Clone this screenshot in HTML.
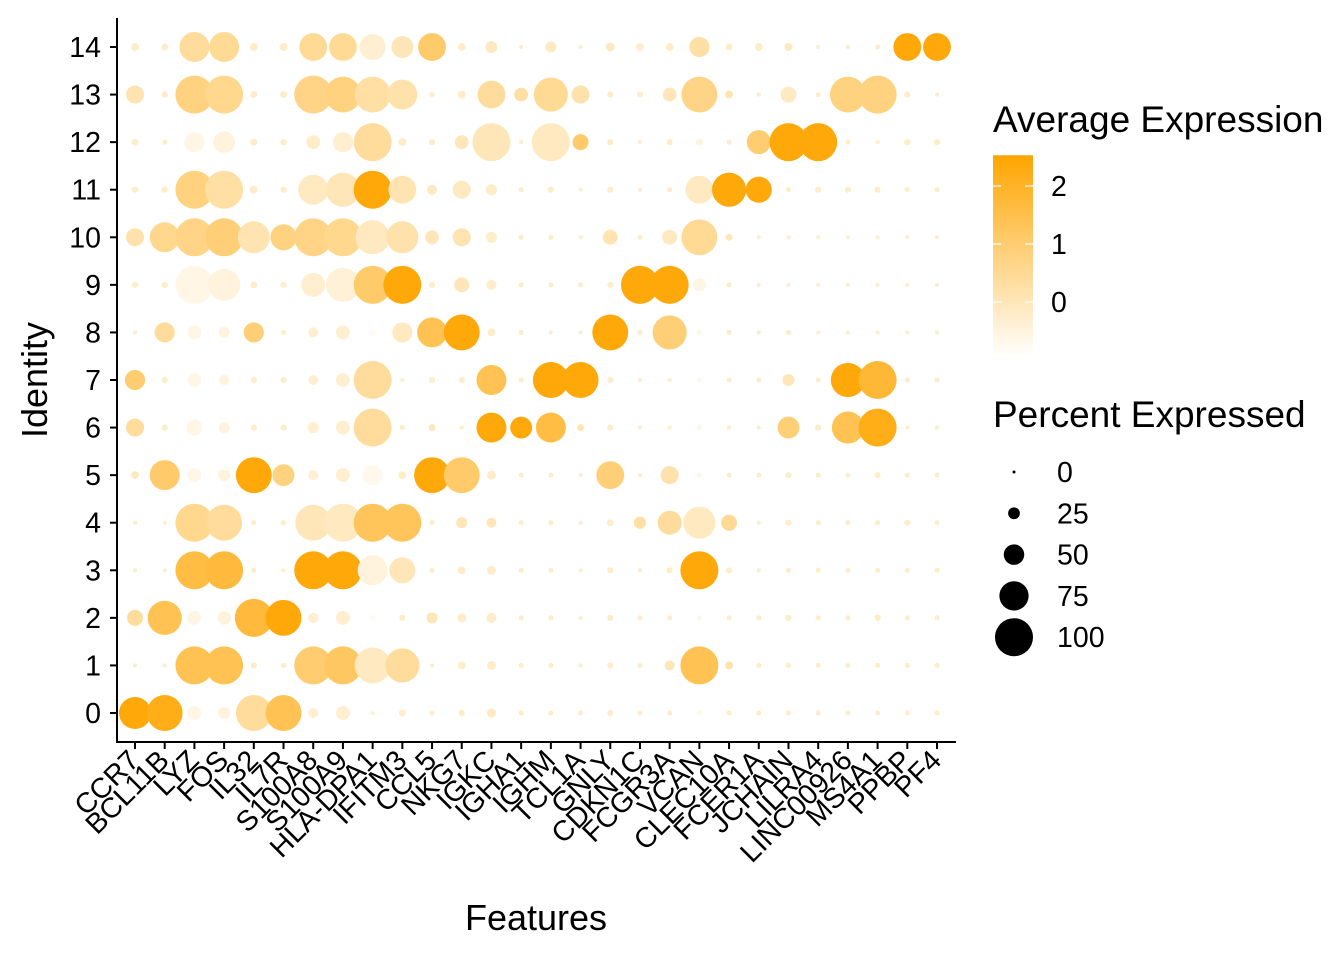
<!DOCTYPE html>
<html><head><meta charset="utf-8"><style>
html,body{margin:0;padding:0;background:#fff;}
svg text{font-family:"Liberation Sans",Arial,sans-serif;fill:#000;}
</style></head><body>
<svg id="chart" width="1344" height="960" xmlns="http://www.w3.org/2000/svg">
<defs><linearGradient id="grad" x1="0" y1="1" x2="0" y2="0">
<stop offset="0" stop-color="#ffffff"/><stop offset="1" stop-color="#ffa500"/></linearGradient></defs>
<g id="dots"></g>
<g id="axes"></g>
<g id="legend"></g>
</svg>
<script>
const features = ["CCR7","BCL11B","LYZ","FOS","IL32","IL7R","S100A8","S100A9","HLA-DPA1","IFITM3","CCL5","NKG7","IGKC","IGHA1","IGHM","TCL1A","GNLY","CDKN1C","FCGR3A","VCAN","CLEC10A","FCER1A","JCHAIN","LILRA4","LINC00926","MS4A1","PPBP","PF4"];
const identities = ["0","1","2","3","4","5","6","7","8","9","10","11","12","13","14"];
const pctRows = [
[83,94,31,26,94,94,20,31,3,11,6,9,17,6,6,6,9,6,6,6,6,6,6,6,6,6,6,6],
[3,3,100,100,9,6,100,100,94,89,3,14,17,6,6,3,9,6,20,100,14,6,6,6,6,6,6,6],
[37,89,31,31,100,94,20,31,9,9,23,17,20,6,6,3,9,6,6,6,6,6,9,6,6,9,6,6],
[3,3,100,100,6,3,100,100,77,66,6,14,17,6,6,3,9,3,9,100,9,3,6,6,6,6,6,6],
[3,3,100,94,6,6,94,100,100,100,6,23,20,6,6,3,11,26,60,83,37,3,9,6,6,6,9,6],
[14,77,31,26,94,54,20,31,49,14,94,94,17,6,6,3,71,3,43,6,6,6,9,6,6,9,6,6],
[43,9,37,23,9,9,23,31,100,6,11,3,77,54,77,11,9,3,3,6,3,3,54,9,83,100,3,3],
[49,9,31,20,9,9,20,31,100,3,9,9,77,6,94,94,9,3,3,3,6,6,26,6,89,100,6,6],
[3,49,31,23,49,6,20,31,14,49,77,94,14,6,3,3,94,6,89,6,6,3,6,3,3,3,3,3],
[9,9,100,83,11,9,60,89,100,100,9,34,20,6,6,6,9,100,100,29,6,3,3,3,3,3,3,3],
[43,77,100,100,83,66,100,100,89,83,31,43,23,6,6,3,34,6,34,94,11,3,3,3,3,3,3,3],
[9,9,100,100,14,9,77,89,100,71,20,43,23,6,9,3,9,3,6,71,89,66,6,9,9,9,6,6],
[11,6,49,54,11,9,31,49,100,14,9,31,100,3,100,37,9,3,9,11,6,60,100,100,6,3,9,9],
[43,9,100,100,11,11,100,94,94,77,6,14,71,31,89,43,9,9,31,94,14,3,37,6,94,100,9,3],
[14,11,77,77,14,14,71,71,66,54,71,14,26,3,23,3,17,14,14,49,11,14,14,3,3,6,71,71]
];
const exprRows = [
[2.4,2.2,-0.6,-0.5,0.4,1.4,-0.3,-0.3,-0.3,-0.2,-0.2,-0.2,-0.1,-0.2,-0.2,-0.2,-0.2,-0.2,-0.2,-0.6,-0.2,-0.2,-0.2,-0.2,-0.2,-0.2,-0.2,-0.2],
[-0.2,-0.2,1.4,1.4,-0.2,-0.2,1.0,1.2,-0.1,0.4,-0.2,-0.2,-0.2,-0.2,-0.2,-0.2,-0.2,-0.2,0.0,1.4,0.2,-0.2,-0.2,-0.2,-0.2,-0.2,-0.2,-0.2],
[0.4,1.4,-0.6,-0.5,1.7,2.4,-0.3,-0.3,-0.8,-0.2,0.0,-0.2,-0.2,-0.2,-0.2,-0.2,-0.2,-0.2,-0.2,-0.6,-0.2,-0.2,-0.2,-0.2,-0.2,-0.2,-0.2,-0.2],
[-0.2,-0.2,1.6,1.7,-0.2,-0.2,2.4,2.4,-0.5,0.0,-0.2,-0.2,-0.2,-0.2,-0.2,-0.2,-0.2,-0.2,-0.2,2.4,-0.2,-0.2,-0.2,-0.2,-0.2,-0.2,-0.2,-0.2],
[-0.2,-0.2,0.6,0.4,-0.2,-0.2,0.0,-0.1,1.3,1.3,-0.2,0.0,0.0,-0.2,-0.2,-0.2,-0.2,0.3,0.4,-0.1,0.5,-0.2,-0.2,-0.2,-0.2,-0.2,-0.2,-0.2],
[-0.1,1.1,-0.6,-0.5,2.4,0.8,-0.3,-0.3,-0.7,-0.2,2.4,1.1,-0.2,-0.2,-0.2,-0.2,0.9,-0.2,0.2,-0.6,-0.2,-0.2,-0.2,-0.2,-0.2,-0.2,-0.2,-0.2],
[0.4,-0.2,-0.6,-0.5,-0.2,-0.2,-0.3,-0.3,0.4,-0.2,0.0,-0.2,2.4,2.4,1.6,0.1,-0.2,-0.2,-0.2,-0.6,-0.2,-0.2,0.9,-0.2,1.4,2.2,-0.2,-0.2],
[1.0,-0.2,-0.6,-0.5,-0.2,-0.2,-0.3,-0.3,0.4,-0.2,-0.2,-0.2,1.4,-0.2,2.4,2.4,-0.2,-0.2,-0.2,-0.6,-0.2,-0.2,0.0,-0.2,2.4,1.8,-0.2,-0.2],
[-0.2,0.4,-0.6,-0.5,0.9,-0.2,-0.3,-0.3,-0.8,-0.1,1.4,2.4,-0.2,-0.2,-0.2,-0.2,2.4,-0.2,0.9,-0.6,-0.2,-0.2,-0.2,-0.2,-0.2,-0.2,-0.2,-0.2],
[-0.2,-0.2,-0.6,-0.5,-0.2,-0.2,-0.3,-0.4,1.1,2.4,-0.2,0.0,-0.2,-0.2,-0.2,-0.2,-0.2,2.4,2.4,-0.6,-0.2,-0.2,-0.2,-0.2,-0.2,-0.2,-0.2,-0.2],
[0.2,0.6,0.7,0.9,0.1,0.8,0.7,0.6,-0.1,0.2,0.0,0.1,-0.2,-0.2,-0.2,-0.2,0.1,-0.2,-0.1,0.5,0.0,-0.2,-0.2,-0.2,-0.2,-0.2,-0.2,-0.2],
[-0.2,-0.2,0.8,0.3,-0.2,-0.2,-0.1,0.0,2.4,0.1,-0.1,-0.1,-0.2,-0.2,-0.2,-0.2,-0.2,-0.2,-0.2,-0.1,2.4,2.4,-0.2,-0.2,-0.2,-0.2,-0.2,-0.2],
[-0.2,-0.2,-0.6,-0.5,-0.2,-0.2,-0.2,-0.3,0.4,-0.2,-0.2,0.0,0.0,-0.2,-0.1,1.1,-0.2,-0.2,-0.2,-0.5,-0.2,1.0,2.4,2.4,-0.2,-0.2,-0.2,-0.2],
[0.1,-0.2,0.8,0.6,-0.2,-0.2,0.7,0.8,0.3,0.2,-0.2,-0.2,0.4,0.3,0.5,0.2,-0.2,-0.2,0.0,0.7,0.1,-0.2,-0.1,-0.2,0.8,0.8,-0.2,-0.2],
[-0.2,-0.2,0.4,0.5,-0.2,-0.2,0.5,0.5,-0.3,0.0,1.1,-0.2,-0.1,-0.2,-0.1,-0.2,-0.1,-0.2,-0.2,0.3,-0.2,-0.2,-0.1,-0.2,-0.2,-0.2,2.4,2.4]
];
const exprTicks = [0,1,2];
const pctTicks = [0,25,50,75,100];

const NS="http://www.w3.org/2000/svg";
function mk(tag,attrs,parent){const e=document.createElementNS(NS,tag);for(const k in attrs)e.setAttribute(k,attrs[k]);parent.appendChild(e);return e;}
const X0=135, XSTEP=(937-135)/27, Y0=713, YSTEP=(713-47)/14;
const xScale=i=>X0+i*XSTEP;
const yScale=i=>Y0-i*YSTEP;
const rScale=p=>1.5+0.175*p;
const EMIN=-0.95, EMAX=2.53;
function colorScale(v){let t=(v-EMIN)/(EMAX-EMIN);t=Math.max(0,Math.min(1,t));
 const g=Math.round(255-90*t), b=Math.round(255-255*t);return `rgb(255,${g},${b})`;}

const dots=document.getElementById('dots');
for(let r=0;r<identities.length;r++){for(let c=0;c<features.length;c++){
 const el=mk('circle',{cx:xScale(c),cy:yScale(r),r:rScale(pctRows[r][c]),fill:colorScale(exprRows[r][c])},dots);
 
 
}}

const axes=document.getElementById('axes');
let a=mk('line',{x1:117,y1:18,x2:117,y2:743,stroke:'#000','stroke-width':2},axes);

a=mk('line',{x1:116,y1:742,x2:956,y2:742,stroke:'#000','stroke-width':2},axes);

identities.forEach((id,i)=>{
 mk('line',{x1:110,y1:yScale(i),x2:117,y2:yScale(i),stroke:'#000','stroke-width':2},axes);
 const t=mk('text',{x:101,y:yScale(i)+10,'text-anchor':'end','font-size':28.5},axes);t.textContent=id;
 
 
});
features.forEach((f,i)=>{
 const x=xScale(i);
 mk('line',{x1:x,y1:742,x2:x,y2:749,stroke:'#000','stroke-width':2},axes);
 const t=mk('text',{x:x+6,y:762,'text-anchor':'end','font-size':28.5,transform:`rotate(-45 ${x+6} 762)`},axes);t.textContent=f;
 
 
});
let t=mk('text',{x:536,y:930,'text-anchor':'middle','font-size':36},axes);t.textContent='Features';

t=mk('text',{x:47,y:380,'text-anchor':'middle','font-size':36,transform:'rotate(-90 47 380)'},axes);t.textContent='Identity';


const lg=document.getElementById('legend');
t=mk('text',{x:993,y:132,'font-size':37},lg);t.textContent='Average Expression';

const gy=v=>302-58*v;
a=mk('rect',{x:993,y:gy(EMAX),width:40,height:gy(EMIN)-gy(EMAX),fill:'url(#grad)'},lg);

exprTicks.forEach(v=>{
 mk('line',{x1:993,y1:gy(v),x2:1001,y2:gy(v),stroke:'#fff','stroke-width':1.2},lg);
 mk('line',{x1:1025,y1:gy(v),x2:1033,y2:gy(v),stroke:'#fff','stroke-width':1.2},lg);
 const tt=mk('text',{x:1051,y:gy(v)+10,'font-size':28.5},lg);tt.textContent=v;
 
 
});
t=mk('text',{x:993,y:427,'font-size':37},lg);t.textContent='Percent Expressed';

pctTicks.forEach((p,i)=>{
 const y=472+i*41.3;
 const c=mk('circle',{cx:1014,cy:y,r:rScale(p)},lg);
 
 
 const tt=mk('text',{x:1057,y:y+10,'font-size':28.5},lg);tt.textContent=p;
 
 
});
</script>
</body></html>
